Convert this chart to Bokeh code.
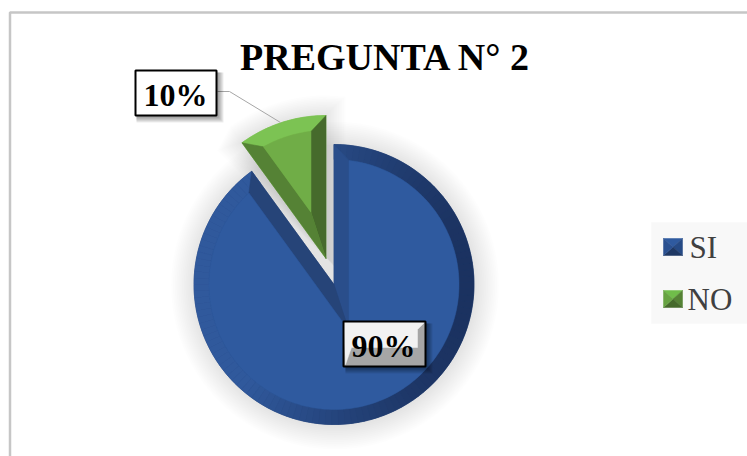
import math
from bokeh.plotting import figure
from bokeh.models import Range1d
from bokeh.core.properties import value
from bokeh.embed import file_html
from bokeh.resources import INLINE

title_text = "PREGUNTA N° 2"
categories = ["SI", "NO"]
percent = [90, 10]
percent_labels = ["90%", "10%"]

W, H = 747, 456
p = figure(width=W, height=H, output_backend="svg", toolbar_location=None,
           x_range=Range1d(0, W), y_range=Range1d(H, 0),
           x_axis_type="linear", min_border=0)
p.axis.visible = False
p.grid.visible = False
p.outline_line_color = None
p.background_fill_color = "#ffffff"
p.border_fill_color = "#ffffff"


def hexmix(a, b, t):
    ca = [int(a[i:i + 2], 16) for i in (1, 3, 5)]
    cb = [int(b[i:i + 2], 16) for i in (1, 3, 5)]
    return "#%02x%02x%02x" % tuple(round(x + (y - x) * t) for x, y in zip(ca, cb))


def pol(c, r, a):
    return c[0] + r * math.cos(a), c[1] - r * math.sin(a)


def arc(c, r, a0, a1, n=90):
    return [pol(c, r, a0 + (a1 - a0) * i / n) for i in range(n + 1)]


def poly(pts, color, alpha=1.0):
    p.patch([q[0] for q in pts], [q[1] for q in pts], fill_color=color, fill_alpha=alpha,
            line_color=color if alpha == 1.0 else None, line_width=0.5, line_alpha=alpha)


# frame of the chart area
p.line([9.5, 9.5, 747], [456, 12, 12], line_color="#c6c6c6", line_width=2.5)
# legend panel
poly([(651, 222), (747, 222), (747, 323), (651, 323)], "#f8f8f8")

# slice angles from the values
TOP = math.pi / 2
sweep_si = 2 * math.pi * percent[0] / sum(percent)
sweep_no = 2 * math.pi * percent[1] / sum(percent)
si_a0, si_a1 = TOP - sweep_si, TOP
no_a0, no_a1 = TOP, TOP + sweep_no

C_SI = (333.5, 284.0)
C_NO = (325.5, 258.0)
R = 140.0
RN = 143.0
BEVEL = 15.0
half = sweep_no / 2
inset = BEVEL / math.sin(half)
bis = TOP + half

# soft shadows
for i in range(14):
    r = R + 24 - i * 1.8
    poly([pol((C_SI[0] + 1, C_SI[1] + 1), r, 2 * math.pi * k / 120) for k in range(120)], "#000000", 0.008)
for i in range(12):
    g = 1 + (12 - i) * 1.6
    poly([(C_NO[0] + g, C_NO[1] + g)] + [pol(C_NO, RN + g, no_a0 - g * 0.006)]
         + arc(C_NO, RN + g, no_a0, no_a1, 30)
         + [pol(C_NO, RN + g * 0.5, no_a1 + g * 0.008)], "#000000", 0.007)

# SI slice
blue_dark, blue_light = "#1b3260", "#30599c"
si_pts = [C_SI] + arc(C_SI, R, si_a0, si_a1, 180)
poly(si_pts, "#264478")
seg = 120
for i in range(seg):
    a = si_a0 + (si_a1 - si_a0) * i / seg
    b = si_a0 + (si_a1 - si_a0) * (i + 1) / seg
    t = (math.cos((a + b) / 2 - math.radians(175)) + 1) / 2
    poly(arc(C_SI, R, a, b, 2) + arc(C_SI, R - BEVEL, b, a, 2), hexmix(blue_dark, blue_light, min(1.0, t * 1.25) ** 1.3))
# straight bevels
si_in = (C_SI[0] - inset * math.cos(bis), C_SI[1] + inset * math.sin(bis))
rin = R - BEVEL
poly([C_SI, (C_SI[0], C_SI[1] - R), pol(C_SI, rin, TOP - math.asin(BEVEL / rin)), si_in], "#2a4e8b")
poly([C_SI, pol(C_SI, R, si_a0), pol(C_SI, rin, si_a0 + math.asin(BEVEL / rin)), si_in], "#264478")
# SI face
poly([si_in] + arc(C_SI, rin, si_a0 + math.asin(BEVEL / rin), si_a1 - math.asin(BEVEL / rin), 180), "#2f5a9f")

# NO slice
no_in = pol(C_NO, inset, bis)
a_r = no_a0 + math.asin(BEVEL / (RN - BEVEL))
a_l = no_a1 - math.asin(BEVEL / (RN - BEVEL))
poly([C_NO] + arc(C_NO, RN, no_a0, no_a1, 30), "#7cc254")
poly(arc(C_NO, RN, no_a0, no_a1, 30) + arc(C_NO, RN - BEVEL, a_l, a_r, 30), "#7cc353")
poly([C_NO, pol(C_NO, RN, no_a0), pol(C_NO, RN - BEVEL, a_r), no_in], "#466a2c")
poly([C_NO, pol(C_NO, RN, no_a1), pol(C_NO, RN - BEVEL, a_l), no_in], "#558235")
poly([no_in] + arc(C_NO, RN - BEVEL, a_r, a_l, 30), "#70ad47")

# leader line of the NO label
p.line([217, 229, 280], [91, 91, 122], line_color="#a6a6a6", line_width=1)

# label boxes
for i in range(6):
    d = 6 - i
    poly([(134 + 2, 70 + 2), (217 + d, 70 + 2), (217 + d, 116 + d), (134 + 2, 116 + d)], "#000000", 0.07)
    poly([(343 + 2, 321 + 2), (426 + d, 321 + 2), (426 + d, 367 + d), (343 + 2, 367 + d)], "#000000", 0.07)
p.quad(left=[135], right=[216], top=[70], bottom=[115], fill_color="#ffffff", line_color="#000000", line_width=2)

xl, xr, yt, yb = 343, 425, 321, 366
m = 8
ym = 347
poly([(xl, yt), (xr, yt), (xr, yb), (xl, yb)], "#a6a6a6")
poly([(xl, yt), (xr, yt), (xr - m, yt + m), (xr - m, ym), (xl + m, ym), (xl + 2, yb - 2)], "#f2f2f2")
p.quad(left=[xl], right=[xr], top=[yt], bottom=[yb], fill_color=None, line_color="#000000", line_width=2)

p.text([175], [94], text=[percent_labels[1]], text_font=value("Liberation Serif"), text_font_style="bold",
       text_font_size="32px", text_color="#000000", text_align="center", text_baseline="middle")
p.text([383], [345], text=[percent_labels[0]], text_font=value("Liberation Serif"), text_font_style="bold",
       text_font_size="32px", text_color="#000000", text_align="center", text_baseline="middle")

# title
p.text([385], [56], text=[title_text], text_font=value("Liberation Serif"), text_font_style="bold",
       text_font_size="38px", text_color="#000000", text_align="center", text_baseline="middle")

# legend
legend_styles = [("#2f5a9f", "#264a85", "#1f3864", "#2a5090"), ("#70bd4a", "#558235", "#466a2c", "#67a342")]
legend_y = [246.5, 298.5]
legend_tx = [689, 687]
for cat, (c_top, c_right, c_bot, c_left), y, tx in zip(categories, legend_styles, legend_y, legend_tx):
    x0, x1, y0, y1 = 663, 682, y - 8.5, y + 8.5
    mx, my = (x0 + x1) / 2, y
    poly([(x0, y0), (x1, y0), (mx, my)], c_top)
    poly([(x1, y0), (x1, y1), (mx, my)], c_right)
    poly([(x0, y1), (x1, y1), (mx, my)], c_bot)
    poly([(x0, y0), (x0, y1), (mx, my)], c_left)
    p.text([tx], [y], text=[cat], text_font=value("Liberation Serif"), text_font_size="31px",
           text_color="#404040", text_align="left", text_baseline="middle")

open("out.html", "w").write(file_html(p, INLINE))
